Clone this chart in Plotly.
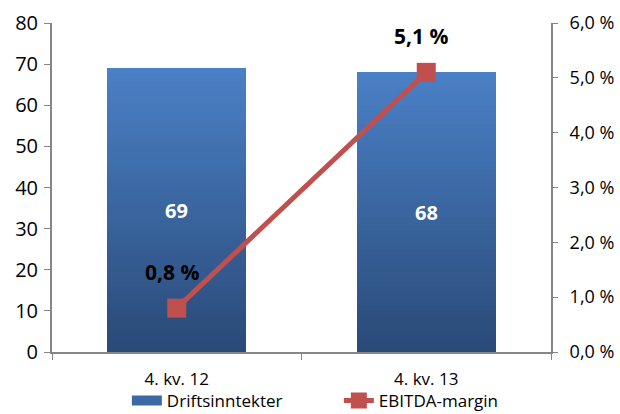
import plotly.graph_objects as go

# Quarterly operating revenue (MNOK) and EBITDA margin (%)
categories = ["4. kv. 12", "4. kv. 13"]
revenue = [69, 68]
ebitda_margin = [0.8, 5.1]

bar_top = (74, 128, 198)
bar_bottom = (42, 74, 120)
n_slices = 60
bar_width = 0.557
font_family = "Open Sans"

fig = go.Figure()

# Vertical gradient bars: each bar is stacked from thin slices of its value
for i in range(n_slices):
    t = i / (n_slices - 1)
    rgb = tuple(round(b + (a - b) * t) for a, b in zip(bar_top, bar_bottom))
    fig.add_trace(go.Bar(
        x=categories,
        y=[v / n_slices for v in revenue],
        marker=dict(color="rgb(%d,%d,%d)" % rgb, line=dict(width=0)),
        width=bar_width,
        showlegend=False,
        hoverinfo="skip",
    ))

# Legend entry for the bars (wide block symbol)
fig.add_trace(go.Scatter(
    x=[None], y=[None], name="Driftsinntekter", mode="lines",
    line=dict(color="rgb(60,104,164)", width=14),
))

fig.add_trace(go.Scatter(
    x=categories, y=ebitda_margin, name="EBITDA-margin",
    mode="lines+markers", yaxis="y2",
    line=dict(color="#c0504d", width=5),
    marker=dict(symbol="square", size=19, color="#c0504d"),
    cliponaxis=False,
))

# Value labels inside the bars
for c, v in zip(categories, revenue):
    fig.add_annotation(x=c, y=v / 2, text="<b>%d</b>" % v, showarrow=False,
                       font=dict(size=20, color="white", family=font_family))

# Margin labels above the line points
for c, v in zip(categories, ebitda_margin):
    fig.add_annotation(x=c, y=v, yref="y2", text="<b>%s %%</b>" % f"{v:.1f}".replace(".", ","),
                       showarrow=False, yshift=36, xshift=-5,
                       font=dict(size=21, color="black", family=font_family))

axis_color = "#868686"
fig.update_layout(
    width=620, height=414,
    margin=dict(l=52, r=69, t=23, b=62, autoexpand=False),
    paper_bgcolor="white", plot_bgcolor="white",
    barmode="stack", bargap=0,
    separators=", ",
    font=dict(family=font_family, size=16, color="black"),
    xaxis=dict(
        showline=True, linecolor=axis_color, linewidth=2,
        ticks="outside", tickson="boundaries", ticklen=6, tickcolor=axis_color,
        tickfont=dict(size=17), showgrid=False, ticklabelstandoff=11,
    ),
    yaxis=dict(
        range=[0, 80], dtick=10, showline=True, linecolor=axis_color, linewidth=2,
        ticks="outside", ticklen=6, tickcolor=axis_color, showgrid=False,
        zeroline=False, tickfont=dict(size=20), ticklabelstandoff=2,
    ),
    yaxis2=dict(
        range=[0, 6], dtick=1, overlaying="y", side="right",
        tickformat=".1f", ticksuffix=" %",
        showline=True, linecolor=axis_color, linewidth=2,
        ticks="outside", ticklen=5, tickcolor=axis_color, showgrid=False,
        zeroline=False, tickfont=dict(size=18), ticklabelstandoff=8,
    ),
    legend=dict(orientation="h", x=0.15, xanchor="left",
                y=-0.094, yanchor="top", entrywidth=167,
                bgcolor="rgba(0,0,0,0)",
                font=dict(size=17), traceorder="normal"),
)

fig.write_html("out.html")
